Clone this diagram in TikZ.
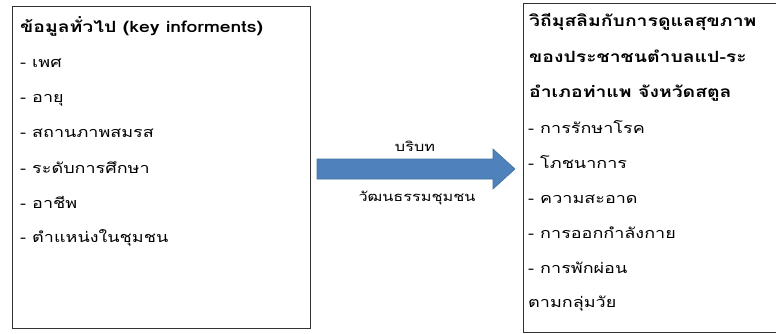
\documentclass[tikz,border=0pt]{standalone}
\usepackage{fontspec}
\setmainfont[Script=Thai, FakeStretch=1.25]{Loma}
\definecolor{arrowblue}{HTML}{4F81BD}
\definecolor{arrowedge}{HTML}{41719C}
\tikzset{
  box/.style={draw=black!80, line width=1.4pt},
  txt/.style={anchor=base west, inner sep=0pt, font=\fontsize{14.4}{16}\selectfont},
  hd/.style={txt, font=\fontsize{15.5}{17}\selectfont\bfseries},
  lbl/.style={anchor=base, inner sep=0pt, font=\fontsize{13}{15}\selectfont},
}
\begin{document}
\begin{tikzpicture}[x=1pt,y=-1pt]
\useasboundingbox (0,0) rectangle (776,334);
% boxes
\node[box, minimum width=298pt, minimum height=322pt, anchor=north west, inner sep=0pt] (L) at (12,6) {};
\node[box, minimum width=260pt, minimum height=329pt, anchor=north west, inner sep=0pt] (R) at (523,3) {};
% left texts
\node[hd] (l0) at (20,33) {ข้อมูลทั่วไป (key informents)};
\node[txt] (l1) at (20,68) {- เพศ};
\node[txt] (l2) at (20,103) {- อายุ};
\node[txt] (l3) at (20,138) {- สถานภาพสมรส};
\node[txt] (l4) at (20,173) {- ระดับการศึกษา};
\node[txt] (l5) at (20,208) {- อาชีพ};
\node[txt] (l6) at (20,242) {- ตำแหน่งในชุมชน};
% right texts
\node[hd] (r0) at (529,27) {วิถีมุสลิมกับการดูแลสุขภาพ};
\node[hd] (r1) at (529,63) {ของประชาชนตำบลแป-ระ};
\node[hd] (r2) at (529,98) {อำเภอท่าแพ จังหวัดสตูล};
\node[txt] (r3) at (528,133) {- การรักษาโรค};
\node[txt] (r4) at (528,168) {- โภชนาการ};
\node[txt] (r5) at (528,203) {- ความสะอาด};
\node[txt] (r6) at (528,238) {- การออกกำลังกาย};
\node[txt] (r7) at (528,273) {- การพักผ่อน};
\node[txt] (r8) at (528,307) {ตามกลุ่มวัย};
% arrow
\coordinate (a1) at (317,159);
\coordinate (a2) at (493,159);
\coordinate (a3) at (493,149);
\coordinate (tip) at (515,169);
\coordinate (a5) at (493,189);
\coordinate (a6) at (493,179);
\coordinate (a7) at (317,179);
\filldraw[fill=arrowblue, draw=arrowedge, line width=0.6pt]
  (a1) -- (a2) -- (a3) -- (tip) -- (a5) -- (a6) -- (a7) -- cycle;
\node[lbl] (t1) at (415,151) {บริบท};
\node[lbl] (t2) at (417,201) {วัฒนธรรมชุมชน};
\end{tikzpicture}
\end{document}
